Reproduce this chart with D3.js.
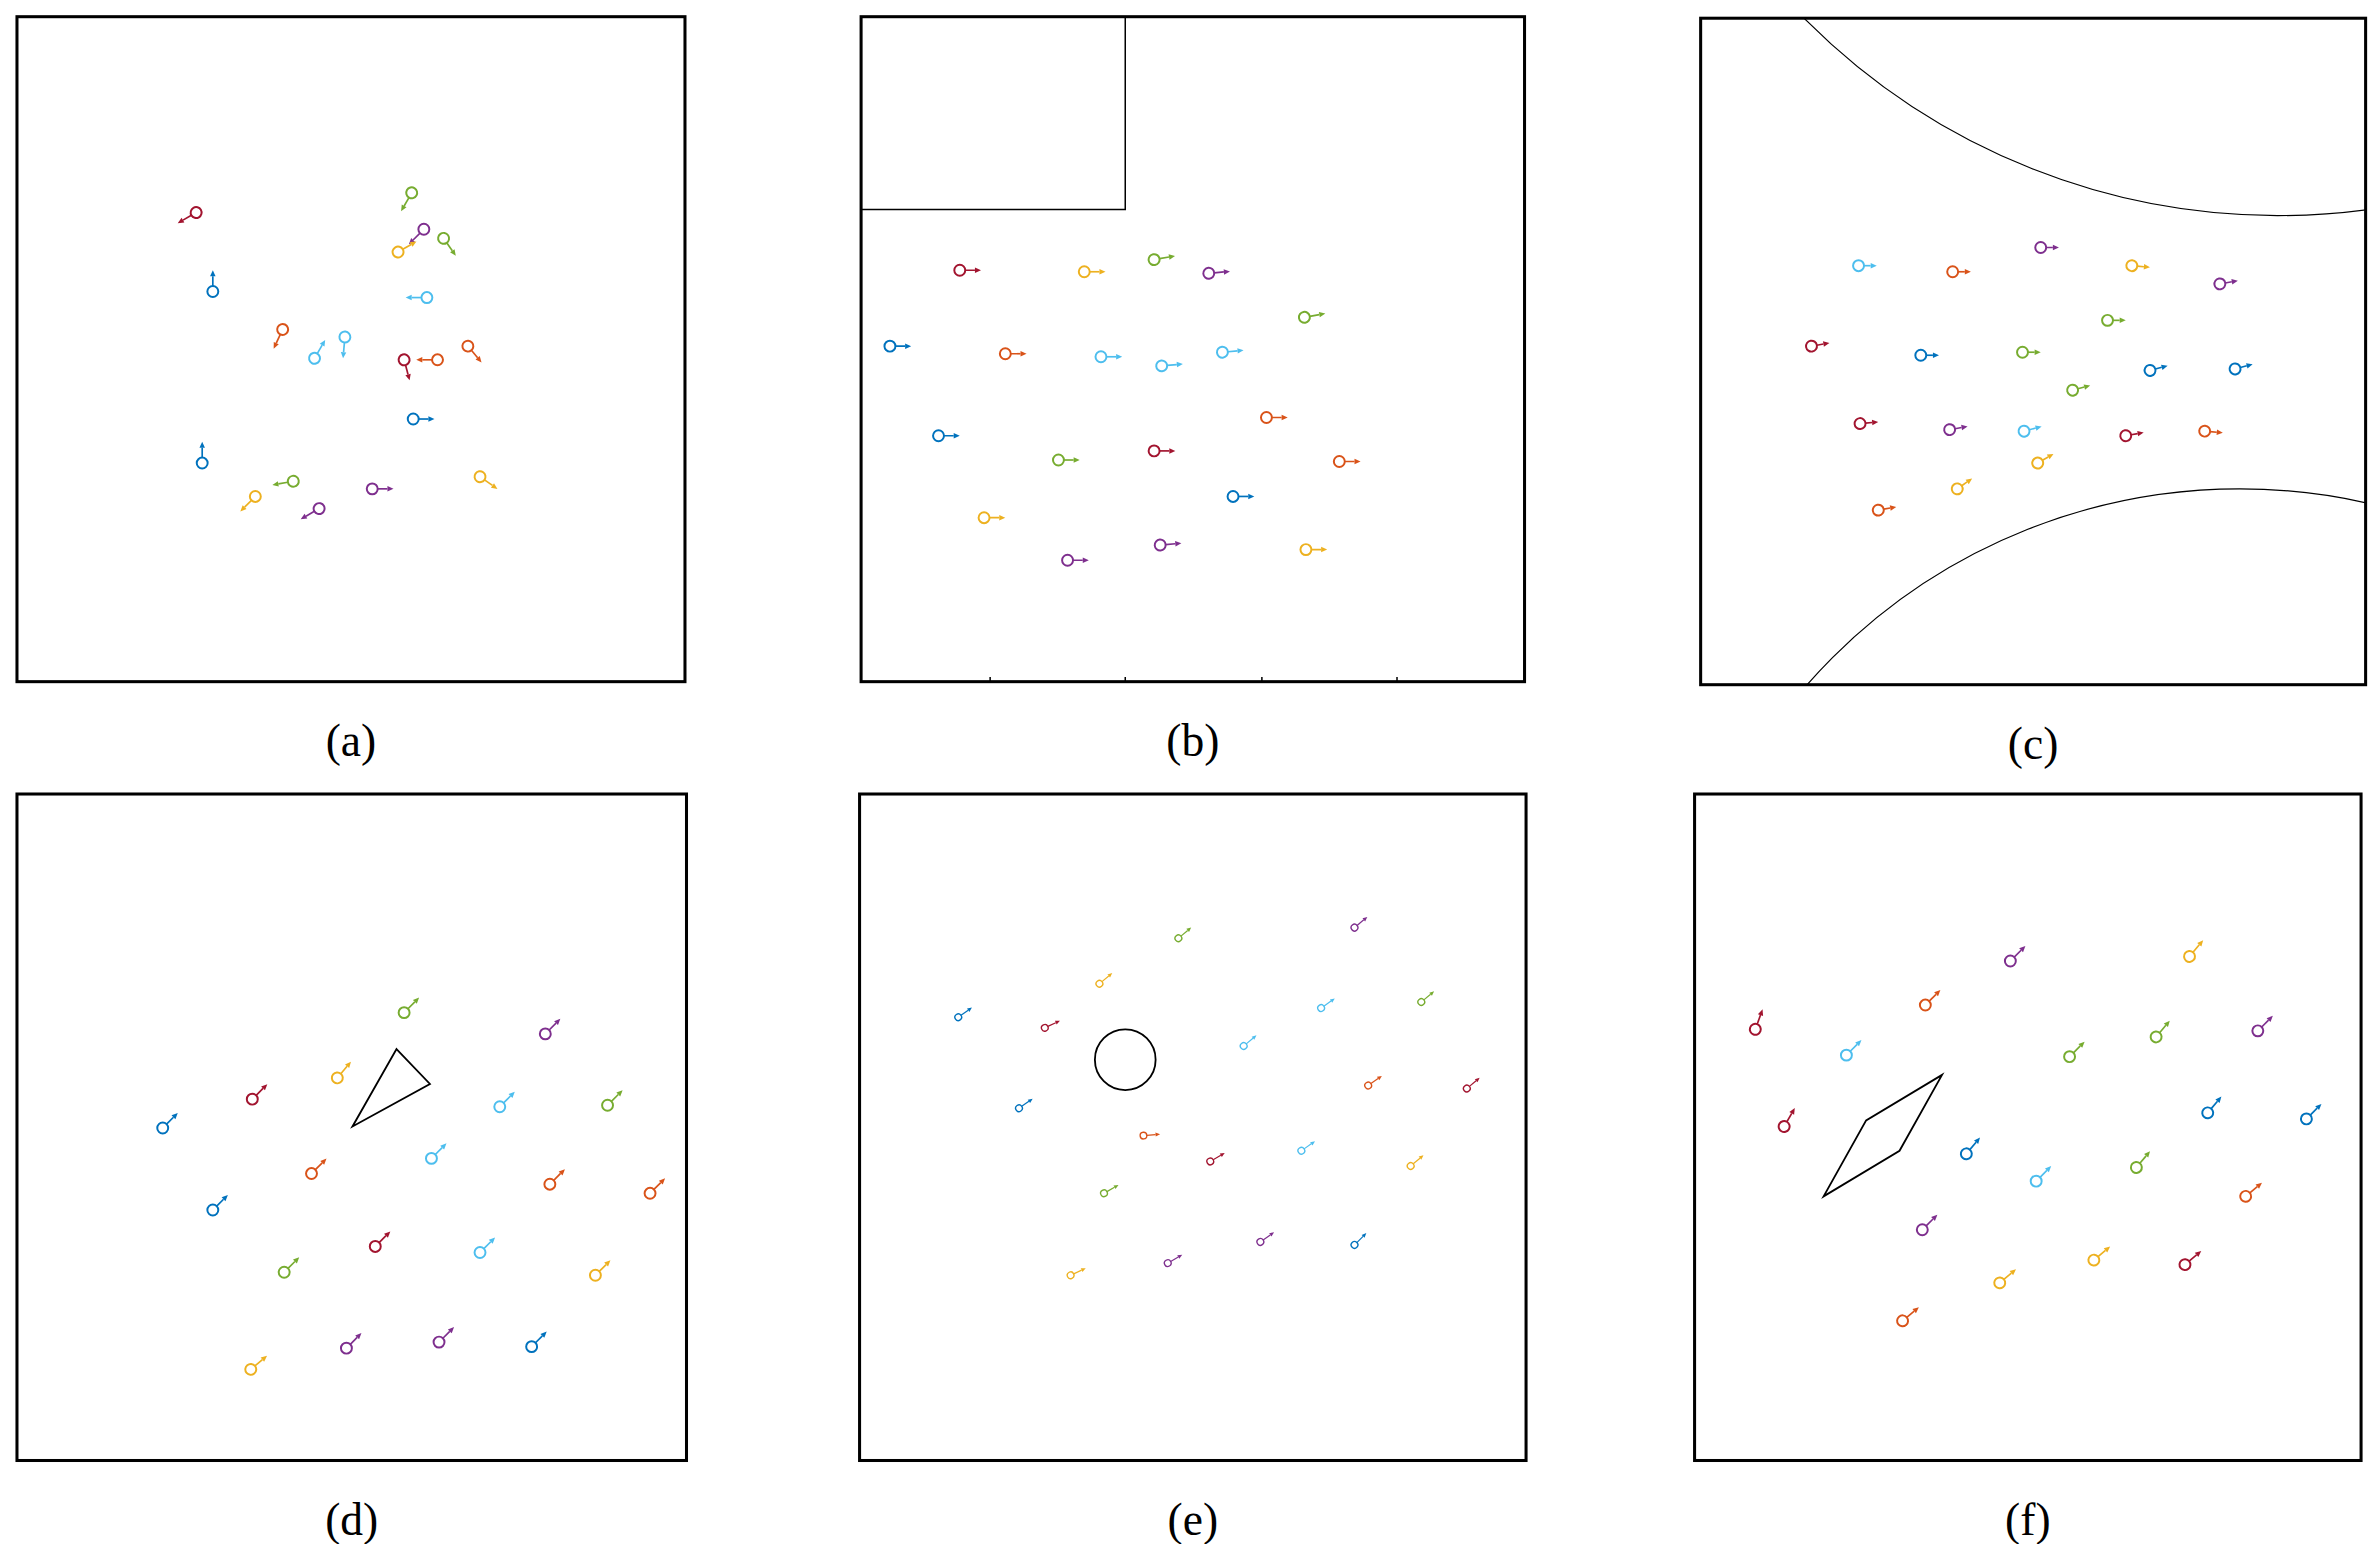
<!DOCTYPE html>
<html><head><meta charset="utf-8">
<script src="https://cdnjs.cloudflare.com/ajax/libs/d3/7.8.5/d3.min.js"></script>
<style>body{margin:0;background:#fff}</style>
</head><body>
<div class="chart"></div>
<script>
// colour keys
var palette = {b:"#0072BD", o:"#D95319", y:"#EDB120", p:"#7E2F8E", g:"#77AC30", l:"#4DBEEE", r:"#A2142F"};
var panelLabels = ["(a)", "(b)", "(c)", "(d)", "(e)", "(f)"];

// agents per panel: [x, y, heading (deg, screen), colour]
var agentsA = [[129,140,150,"r"],[140,192,-90,"b"],[271,127,120,"g"],[279,151,135,"p"],[262,166,-30,"y"],
  [292,157,55,"g"],[281,196,180,"l"],[186,217,115,"o"],[207,236,-60,"l"],[227,222,95,"l"],[266,237,75,"r"],
  [288,237,180,"o"],[308,228,50,"o"],[272,276,0,"b"],[133,305,-90,"b"],[193,317,170,"g"],[168,327,135,"y"],
  [210,335,150,"p"],[245,322,0,"p"],[316,314,35,"y"]];
var agentsB = [[632,178,0,"r"],[714,179,0,"y"],[760,171,-10,"g"],[796,180,-5,"p"],[859,209,-10,"g"],
  [586,228,0,"b"],[662,233,0,"o"],[725,235,0,"l"],[765,241,-5,"l"],[805,232,-5,"l"],[834,275,0,"o"],
  [618,287,0,"b"],[697,303,0,"g"],[760,297,0,"r"],[882,304,0,"o"],[812,327,0,"b"],[648,341,0,"y"],
  [764,359,-5,"p"],[703,369,0,"p"],[860,362,0,"y"]];
var agentsC = [[1224,175,0,"l"],[1286,179,0,"o"],[1344,163,0,"p"],[1404,175,5,"y"],[1462,187,-10,"p"],
  [1388,211,0,"g"],[1193,228,-10,"r"],[1265,234,0,"b"],[1332,232,0,"g"],[1365,257,-15,"g"],[1416,244,-15,"b"],
  [1472,243,-15,"b"],[1225,279,-5,"r"],[1284,283,-10,"p"],[1333,284,-15,"l"],[1400,287,-10,"r"],[1452,284,5,"o"],
  [1342,305,-30,"y"],[1289,322,-35,"y"],[1237,336,-10,"o"]];
var agentsD = [[107,743,-45,"b"],[166,724,-45,"r"],[222,710,-50,"y"],[266,667,-45,"g"],[359,681,-45,"p"],
  [329,729,-45,"l"],[400,728,-45,"g"],[140,797,-45,"b"],[205,773,-45,"o"],[284,763,-45,"l"],[362,780,-45,"o"],
  [428,786,-45,"o"],[187,838,-45,"g"],[247,821,-45,"r"],[316,825,-45,"l"],[392,840,-45,"y"],[165,902,-40,"y"],
  [228,888,-45,"p"],[289,884,-45,"p"],[350,887,-45,"b"]];
var agentsE = [[631,670,-35,"b"],[688,677,-25,"r"],[724,648,-40,"y"],[776,618,-40,"g"],[892,611,-40,"p"],
  [819,689,-40,"l"],[870,664,-35,"l"],[936,660,-40,"g"],[671,730,-35,"b"],[753,748,-5,"o"],[797,765,-30,"r"],
  [857,758,-35,"l"],[901,715,-35,"o"],[966,717,-40,"r"],[727,786,-30,"g"],[929,768,-40,"y"],[705,840,-25,"y"],
  [769,832,-30,"p"],[830,818,-35,"p"],[892,820,-45,"b"]];
var agentsF = [[1156,678,-70,"r"],[1175,742,-60,"r"],[1216,695,-45,"l"],[1268,662,-45,"o"],[1324,633,-45,"p"],
  [1442,630,-50,"y"],[1363,696,-45,"g"],[1420,683,-50,"g"],[1487,679,-45,"p"],[1295,760,-50,"b"],
  [1341,778,-45,"l"],[1407,769,-50,"g"],[1454,733,-50,"b"],[1519,737,-45,"b"],[1266,810,-45,"p"],
  [1479,788,-40,"o"],[1317,845,-40,"y"],[1379,830,-40,"y"],[1439,833,-40,"r"],[1253,870,-40,"o"]];

// obstacles
var wallB = [[567,138],[741,138],[741,11]];
var ticksB = [652, 741, 831, 920];
var arcsC = [[1500,-297,439],[1475,701,379]];
var triangleD = [[261,691],[283,714],[232,742]];
var circleE = [741,698,20];
var rhombusF = [[1201,788],[1229,738],[1279,708],[1251,758]];

var boxes = [[11,11,451,449],[567,11,1004,449],[1120,12,1558,451],
             [11,523,452,962],[566,523,1005,962],[1116,523,1555,962]];
var allAgents = [agentsA, agentsB, agentsC, agentsD, agentsE, agentsF];

var svg = d3.select(".chart").append("svg")
  .attr("width", 2375).attr("height", 1544)
  .attr("viewBox", "0 0 1564 1017");

svg.append("defs").selectAll("clipPath").data(boxes).enter()
  .append("clipPath").attr("id", (d, i) => "clip" + i)
  .append("rect").attr("x", d => d[0]).attr("y", d => d[1])
  .attr("width", d => d[2] - d[0]).attr("height", d => d[3] - d[1]);

boxes.forEach(function(b, i) {
  var x = d3.scaleLinear().domain([b[0], b[2]]).range([b[0], b[2]]);
  var y = d3.scaleLinear().domain([b[1], b[3]]).range([b[1], b[3]]);
  var g = svg.append("g");
  var inner = g.append("g").attr("clip-path", `url(#clip${i})`);
  var line = d3.line().x(d => x(d[0])).y(d => y(d[1]));

  if (i === 1) {
    inner.append("path").attr("d", line(wallB)).attr("fill", "none").attr("stroke", "#000").attr("stroke-width", 1);
    inner.selectAll(".tick").data(ticksB).enter().append("line")
      .attr("x1", d => x(d)).attr("x2", d => x(d)).attr("y1", y(b[3])).attr("y2", y(b[3]) - 3)
      .attr("stroke", "#000").attr("stroke-width", 1);
  }
  if (i === 2) {
    inner.selectAll(".arc").data(arcsC).enter().append("circle")
      .attr("cx", d => x(d[0])).attr("cy", d => y(d[1])).attr("r", d => d[2])
      .attr("fill", "none").attr("stroke", "#000").attr("stroke-width", 0.8);
  }
  if (i === 3 || i === 5) {
    var poly = i === 3 ? triangleD : rhombusF;
    inner.append("path").attr("d", line(poly) + "Z").attr("fill", "none").attr("stroke", "#000").attr("stroke-width", 1.2);
  }
  if (i === 4) {
    inner.append("circle").attr("cx", x(circleE[0])).attr("cy", y(circleE[1])).attr("r", circleE[2])
      .attr("fill", "none").attr("stroke", "#000").attr("stroke-width", 1.2);
  }

  // agents
  var small = i === 4;
  var r = small ? 2.2 : 3.6, len = small ? 11 : (i === 2 ? 12 : 14), head = small ? 3 : 4;
  var ag = inner.selectAll(".agent").data(allAgents[i]).enter().append("g")
    .attr("transform", d => `translate(${x(d[0])},${y(d[1])}) rotate(${d[2]})`);
  ag.append("circle").attr("r", r).attr("fill", "none")
    .attr("stroke", d => palette[d[3]]).attr("stroke-width", small ? 0.9 : 1.3);
  ag.append("line").attr("x1", r).attr("x2", len - head).attr("y1", 0).attr("y2", 0)
    .attr("stroke", d => palette[d[3]]).attr("stroke-width", small ? 0.8 : 1.1);
  ag.append("path").attr("d", `M${len},0L${len - head},${-head * 0.45}L${len - head},${head * 0.45}Z`)
    .attr("fill", d => palette[d[3]]);

  g.append("rect").attr("x", x(b[0])).attr("y", y(b[1]))
    .attr("width", x(b[2]) - x(b[0])).attr("height", y(b[3]) - y(b[1]))
    .attr("fill", "none").attr("stroke", "#000").attr("stroke-width", 2);

  g.append("text").attr("x", (x(b[0]) + x(b[2])) / 2).attr("y", y(b[3]) + 49)
    .attr("text-anchor", "middle").attr("font-family", "Liberation Serif, Times New Roman, serif")
    .attr("font-size", 30).text(panelLabels[i]);
});
</script>
</body></html>
